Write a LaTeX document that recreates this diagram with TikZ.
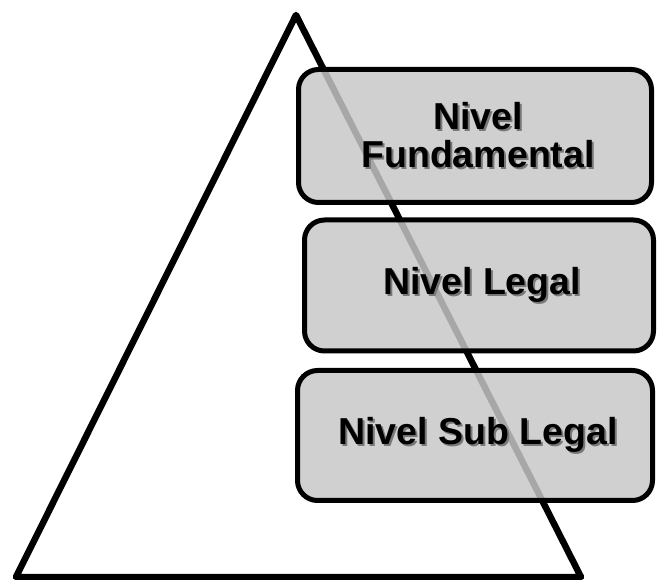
\documentclass[tikz,border=0pt]{standalone}
\usepackage{fontspec}
\setmainfont{Liberation Sans}
\newcommand{\shad}[1]{\leavevmode\rlap{\kern2pt\raisebox{-2pt}{\textcolor[RGB]{120,120,120}{#1}}}#1}
\begin{document}
\begin{tikzpicture}[x=1pt,y=-1pt,
  levelbox/.style={draw=black, line width=5pt, rounded corners=20pt, fill={rgb,255:red,199;green,199;blue,199}, fill opacity=0.84, inner sep=0pt},
  leveltext/.style={font=\fontsize{37.5}{38}\selectfont\bfseries, align=center, text=black, inner sep=0pt}
]
\useasboundingbox (0,0) rectangle (657,580);
% triangle
\coordinate (apex) at (296,15);
\coordinate (bl) at (16,577);
\coordinate (br) at (581,577);
\draw[line width=6.5pt, line join=round] (apex) -- (br) -- (bl) -- cycle;
% boxes
\node[levelbox, minimum width=353pt, minimum height=133pt] (b1) at (475,136) {};
\node[levelbox, minimum width=349pt, minimum height=131pt] (b2) at (479,285.5) {};
\node[levelbox, minimum width=355pt, minimum height=130pt] (b3) at (475,435.5) {};
% texts with shadows
\node[leveltext] (t1) at ([xshift=3pt]b1.center) {\shad{Nivel}\\\shad{Fundamental}};
\node[leveltext] (t2) at ([xshift=3pt]b2.center) {\shad{Nivel Legal}};
\node[leveltext] (t3) at ([xshift=3pt]b3.center) {\shad{Nivel Sub Legal}};
\end{tikzpicture}
\end{document}
